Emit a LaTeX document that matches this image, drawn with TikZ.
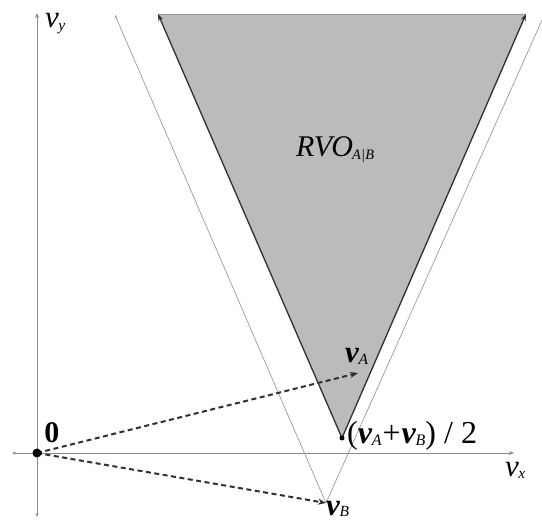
\documentclass[tikz,border=0pt]{standalone}
\usepackage{fontspec}
\setmainfont{Liberation Serif}
\usetikzlibrary{arrows.meta}
\definecolor{conefill}{HTML}{BBBBBB}
\definecolor{axisgray}{HTML}{8A8A8A}
\definecolor{thingray}{HTML}{9A9A9A}
\definecolor{darkline}{HTML}{303030}
\newcommand{\bvec}[1]{\textbf{\textit{v}}\kern-0.5pt\raisebox{-0.06em}{\scalebox{0.5}{\textit{#1}}}}
\newcommand{\ivec}[1]{\textit{v}\kern-0.5pt\raisebox{-0.08em}{\scalebox{0.5}{\textit{#1}}}}
\tikzset{
  axisline/.style={draw=axisgray, line width=0.9pt, {Stealth[length=4pt,width=3pt]}-{Stealth[length=5pt,width=4pt]}},
  thinline/.style={draw=thingray, line width=0.7pt},
  coneedge/.style={draw=darkline, line width=1.3pt, -{Stealth[length=7pt,width=5pt]}},
  velarrow/.style={draw=darkline, line width=2pt, dash pattern=on 5pt off 3.5pt, -{Stealth[length=8pt,width=6pt]}},
  lbl/.style={inner sep=0pt, text=black}
}
\begin{document}
\begin{tikzpicture}[x=1pt,y=-1pt]
\useasboundingbox (0,0) rectangle (542,524);
% key points
\coordinate (O) at (37,453);
\coordinate (VA) at (358,373);
\coordinate (VB) at (326,503);
\coordinate (P) at (342,438);
\coordinate (CL) at (158,14);
\coordinate (CR) at (526,14);
\coordinate (TL) at (115,15);
\coordinate (TR) at (551,0);
\coordinate (XL) at (12,453);
\coordinate (XR) at (514,453);
\coordinate (YB) at (37,517);
\coordinate (YT) at (37,13);
% cone
\fill[conefill] (P) -- (CL) -- (CR) -- cycle;
\draw[draw=conefill!80!black, line width=0.5pt] (CL) -- (CR);
% axes
\draw[axisline] (XL) -- (XR);
\draw[axisline] (YB) -- (YT);
% thin VO lines
\begin{scope}
\clip (0,0) rectangle (542,524);
\draw[thinline, -{Stealth[length=3pt,width=2.5pt]}] (VB) -- (TL);
\draw[thinline] (VB) -- (TR);
\end{scope}
% cone edges
\draw[coneedge] (P) -- (CL);
\draw[coneedge] (P) -- (CR);
% velocities
\draw[velarrow] (O) -- (VA);
\draw[velarrow] (O) -- (VB);
\fill[black] (O) circle (4.5pt);
\fill[black] (P) circle (2.5pt);
% labels
\node[lbl, font=\fontsize{30}{30}\selectfont\bfseries] (zero) at (52,433) {0};
\node[lbl, font=\fontsize{31}{31}\selectfont, anchor=base west] (vy) at (45,28) {\ivec{y}};
\node[lbl, font=\fontsize{31}{31}\selectfont, anchor=base west] (vx) at (505,476) {\ivec{x}};
\node[lbl, font=\fontsize{31}{31}\selectfont, anchor=base west] (vAl) at (345,363) {\bvec{A}};
\node[lbl, font=\fontsize{31}{31}\selectfont, anchor=base west] (vBl) at (326,515) {\bvec{B}};
\node[lbl, font=\fontsize{32}{32}\selectfont, anchor=base west] (mid) at (347,444) {(\bvec{A}\kern1pt+\kern1pt\bvec{B}) / 2};
\node[lbl, font=\fontsize{30}{30}\selectfont\itshape, anchor=base west] (rvo) at (296,157) {RVO\kern-1pt\raisebox{-0.1em}{\scalebox{0.48}{A\kern0.5pt|\kern0.5pt B}}};
\end{tikzpicture}
\end{document}
